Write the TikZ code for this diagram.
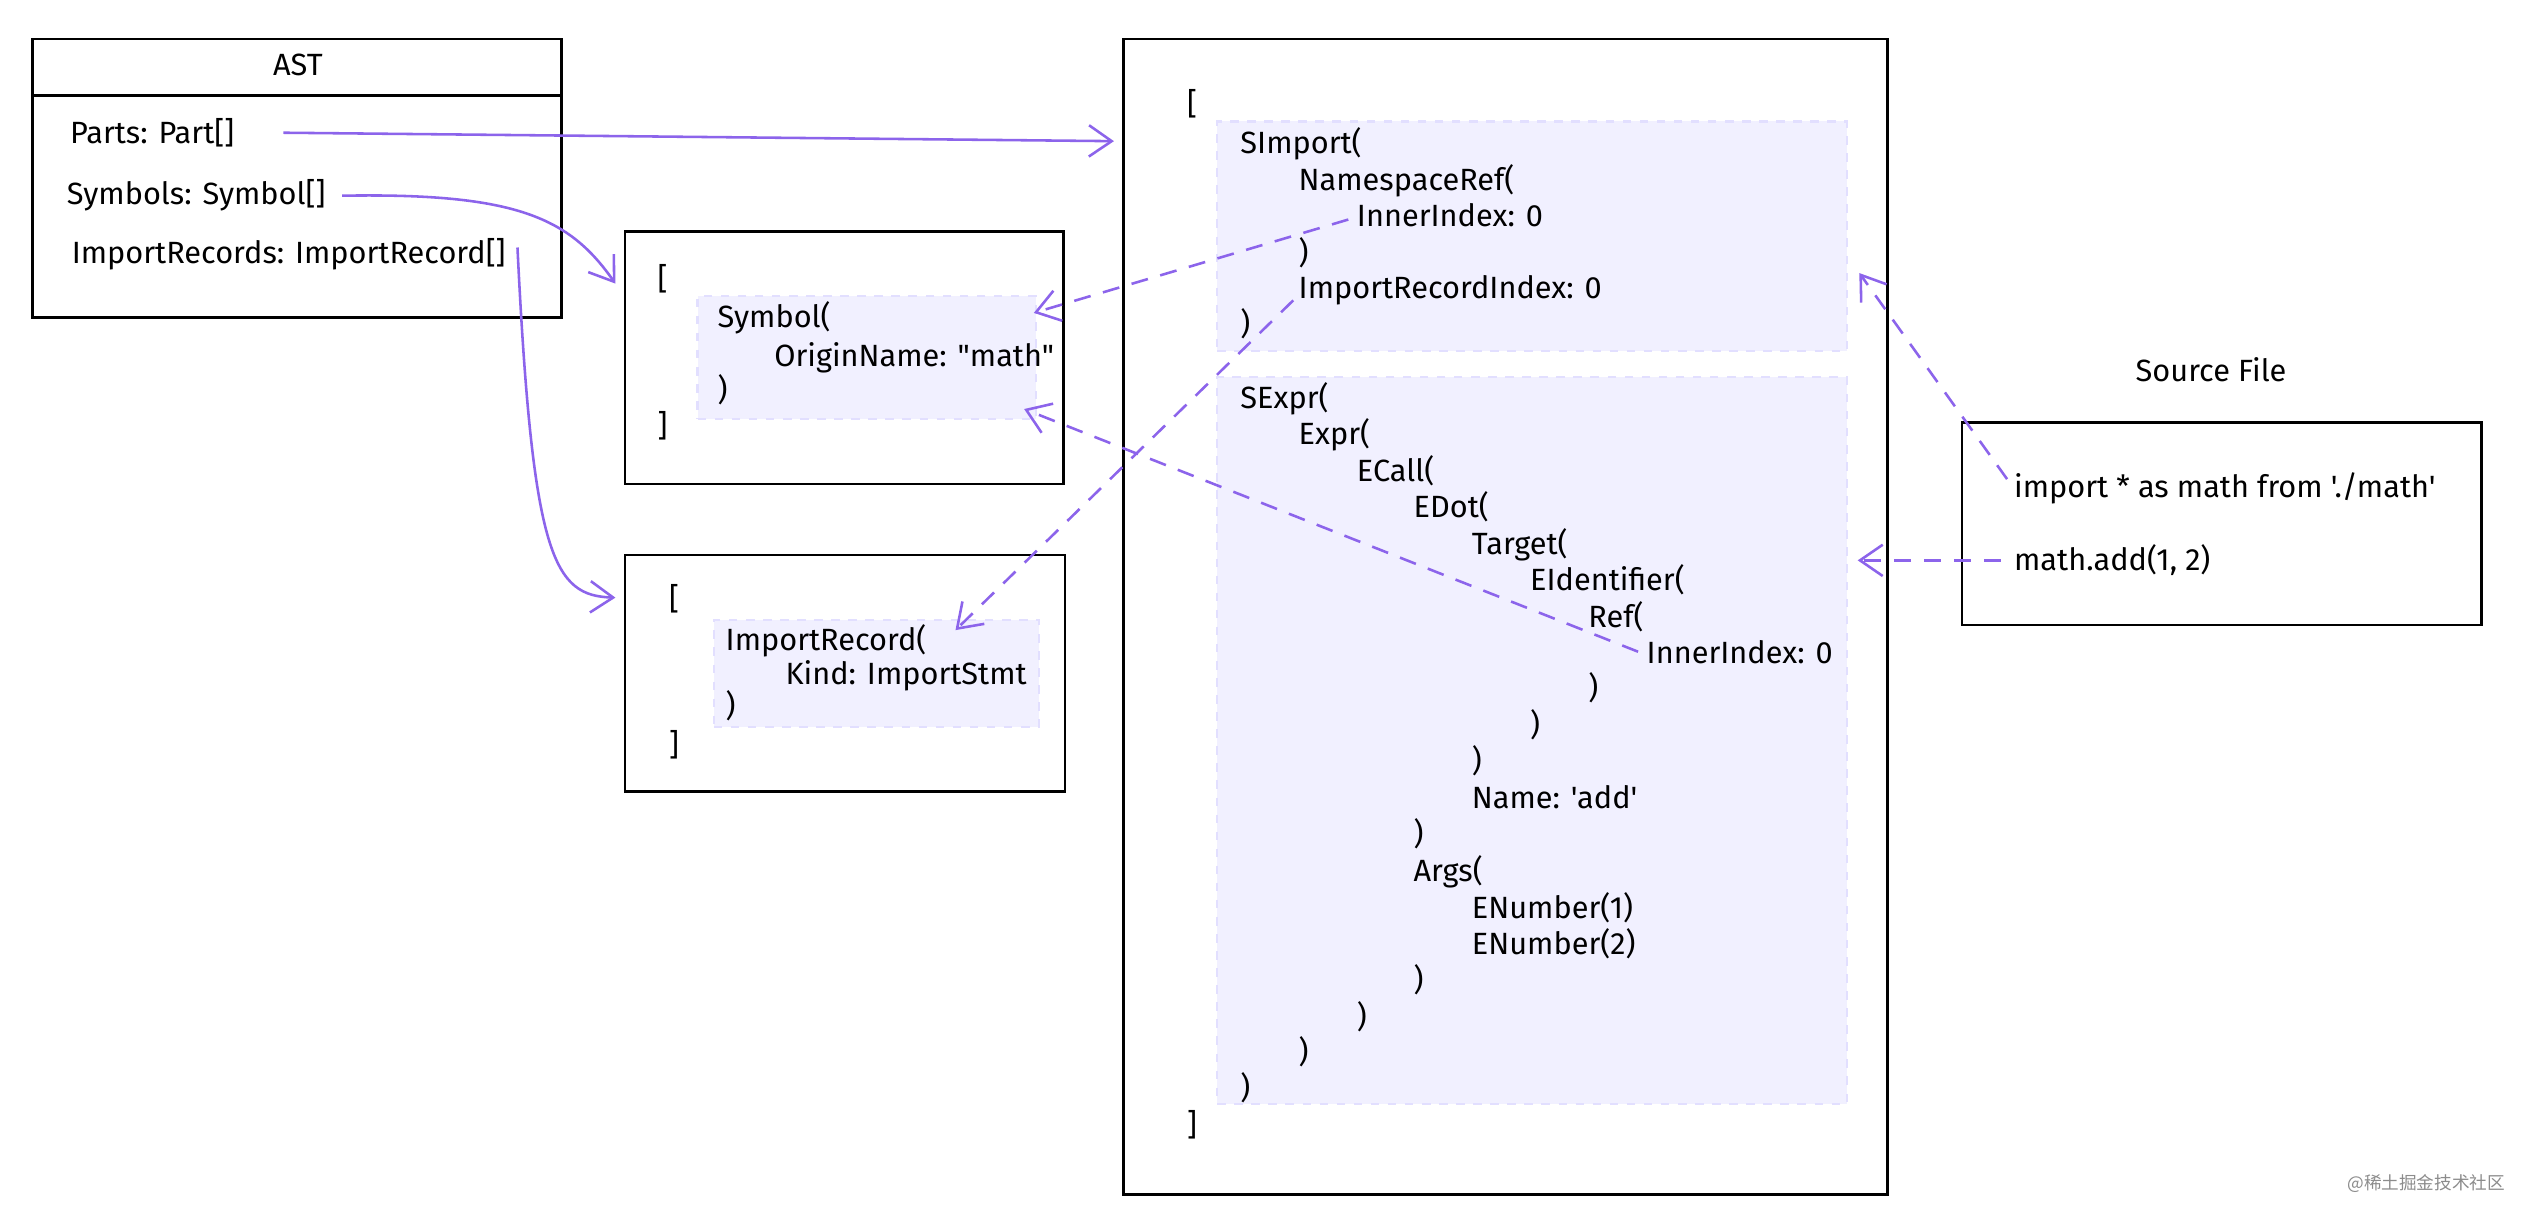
\documentclass[tikz,border=0pt]{standalone}
\usepackage{fontspec}
\setmainfont{Fira Sans}[Ligatures=TeXOff]
\newfontfamily\cjk{Noto Sans CJK SC}
\usetikzlibrary{arrows.meta,fit,calc}
\definecolor{arr}{RGB}{140,100,235}
\definecolor{hatch}{RGB}{241,240,255}
\definecolor{hatchb}{RGB}{226,223,255}
\begin{document}
\begin{tikzpicture}[x=0.2mm,y=-0.2mm,
  box/.style={draw=black,line width=0.9pt,inner sep=0pt},
  blk/.style={fill=hatch,draw=hatchb,dashed,line width=0.8pt,inner sep=0pt},
  txt/.style={anchor=mid west,inner sep=0pt,font=\fontsize{10.8}{12}\selectfont},
  ctxt/.style={anchor=mid,inner sep=0pt,font=\fontsize{10.8}{12}\selectfont},
  link/.style={draw=arr,line width=0.9pt,-{Straight Barb[length=8pt,width=11pt]}},
  dlink/.style={link,dash pattern=on 6pt off 4.5pt}]
\useasboundingbox[fill=white] (0,0) rectangle (1568,757);

% boxes
\node[box,fit={(20,24) (347,196)}] (ast) {};
\draw[line width=0.9pt] (ast.west |- 0,59) -- (ast.east |- 0,59);
\node[box,fit={(386,143) (657,299)}] (symbox) {};
\node[box,fit={(386,343) (658,489)}] (irbox) {};
\node[box,fit={(694,24) (1166,738)}] (big) {};
\node[box,fit={(1212,261) (1533,386)}] (src) {};

% hatched blocks
\node[blk,fit={(431,183) (640,259)}] (symblk) {};
\node[blk,fit={(441,383) (642,449)}] (irblk) {};
\node[blk,fit={(752,75) (1141,217)}] (sblk1) {};
\node[blk,fit={(752,233) (1141,682)}] (sblk2) {};

% AST texts
\node[ctxt] (asttitle) at (184,42) {AST};
\node[txt] (parts) at (43,84) {Parts: Part[]};
\node[txt] (symbols) at (41,122) {Symbols: Symbol[]};
\node[txt] (imps) at (44,158) {ImportRecords: ImportRecord[]};

% Symbol box texts
\node[txt] (sbo) at (406,174) {[};
\node[txt] (sy1) at (443,198) {Symbol(};
\node[txt] (sy2) at (478,222) {OriginName: "math"};
\node[txt] (sy3) at (443,243) {)};
\node[txt] (sbc) at (406,265) {]};

% ImportRecord box texts
\node[txt] (ibo) at (413,372) {[};
\node[txt] (ir1) at (448,397) {ImportRecord(};
\node[txt] (ir2) at (485,418) {Kind: ImportStmt};
\node[txt] (ir3) at (448,438) {)};
\node[txt] (ibc) at (413,462) {]};

% big box texts
\node[txt] (bbo) at (733,66) {[};
\node[txt] (a1) at (766,90) {SImport(};
\node[txt] (a2) at (802,113) {NamespaceRef(};
\node[txt] (inner1) at (838,135) {InnerIndex: 0};
\node[txt] (a4) at (802,158) {)};
\node[txt] (iri) at (802,180) {ImportRecordIndex: 0};
\node[txt] (a6) at (766,202) {)};
\node[txt] (b1) at (766,248) {SExpr(};
\node[txt] (b2) at (802,270) {Expr(};
\node[txt] (b3) at (838,293) {ECall(};
\node[txt] (b4) at (873,315) {EDot(};
\node[txt] (b5) at (909,338) {Target(};
\node[txt] (b6) at (945,360) {EIdentifier(};
\node[txt] (b7) at (981,383) {Ref(};
\node[txt] (inner2) at (1017,405) {InnerIndex: 0};
\node[txt] (b9) at (981,427) {)};
\node[txt] (b10) at (945,450) {)};
\node[txt] (b11) at (909,472) {)};
\node[txt] (b12) at (909,495) {Name: 'add'};
\node[txt] (b13) at (873,517) {)};
\node[txt] (b14) at (873,540) {Args(};
\node[txt] (b15) at (909,563) {ENumber(1)};
\node[txt] (b16) at (909,585) {ENumber(2)};
\node[txt] (b17) at (873,607) {)};
\node[txt] (b18) at (838,630) {)};
\node[txt] (b19) at (802,652) {)};
\node[txt] (b20) at (766,674) {)};
\node[txt] (bbc) at (733,697) {]};

% source file
\node[ctxt] (srctitle) at (1366,231) {Source File};
\node[txt] (imp) at (1244,303) {import * as math from './math'};
\node[txt] (madd) at (1244,348) {math.add(1, 2)};

% watermark
\node[anchor=east,inner sep=0pt,text=black!45,font=\cjk\fontsize{6.2}{7}\selectfont] (wm) at (1548,731) {@稀土掘金技术社区};

% connectors
\draw[link] ($(parts.east)+(30,0)$) -- ($(big.north west)+(-5,64)$);
\draw[link] ($(symbols.east)+(10,0)$) .. controls (320,119) and (352,135) .. ($(symbox.north west)+(-5,33)$);
\draw[link] ($(imps.east)+(7,-4)$) .. controls (329,345) and (342,368) .. ($(irbox.north west)+(-5,27)$);
\draw[dlink] ($(inner1.west)+(-5,3)$) -- ($(symblk.north east)+(-2,11)$);
\draw[dlink] ($(iri.west)+(-3,6)$) -- ($(irblk.north west)+(150,7)$);
\draw[dlink] ($(inner2.west)+(-5,0)$) -- ($(symblk.south east)+(-8,-7)$);
\draw[dlink] ($(imp.west)+(-4,-6)$) -- ($(sblk1.south east)+(7,-49)$);
\draw[dlink] ($(madd.west)+(-8,0)$) -- ($(sblk2.east |- madd.west)+(6,0)$);
\end{tikzpicture}
\end{document}
